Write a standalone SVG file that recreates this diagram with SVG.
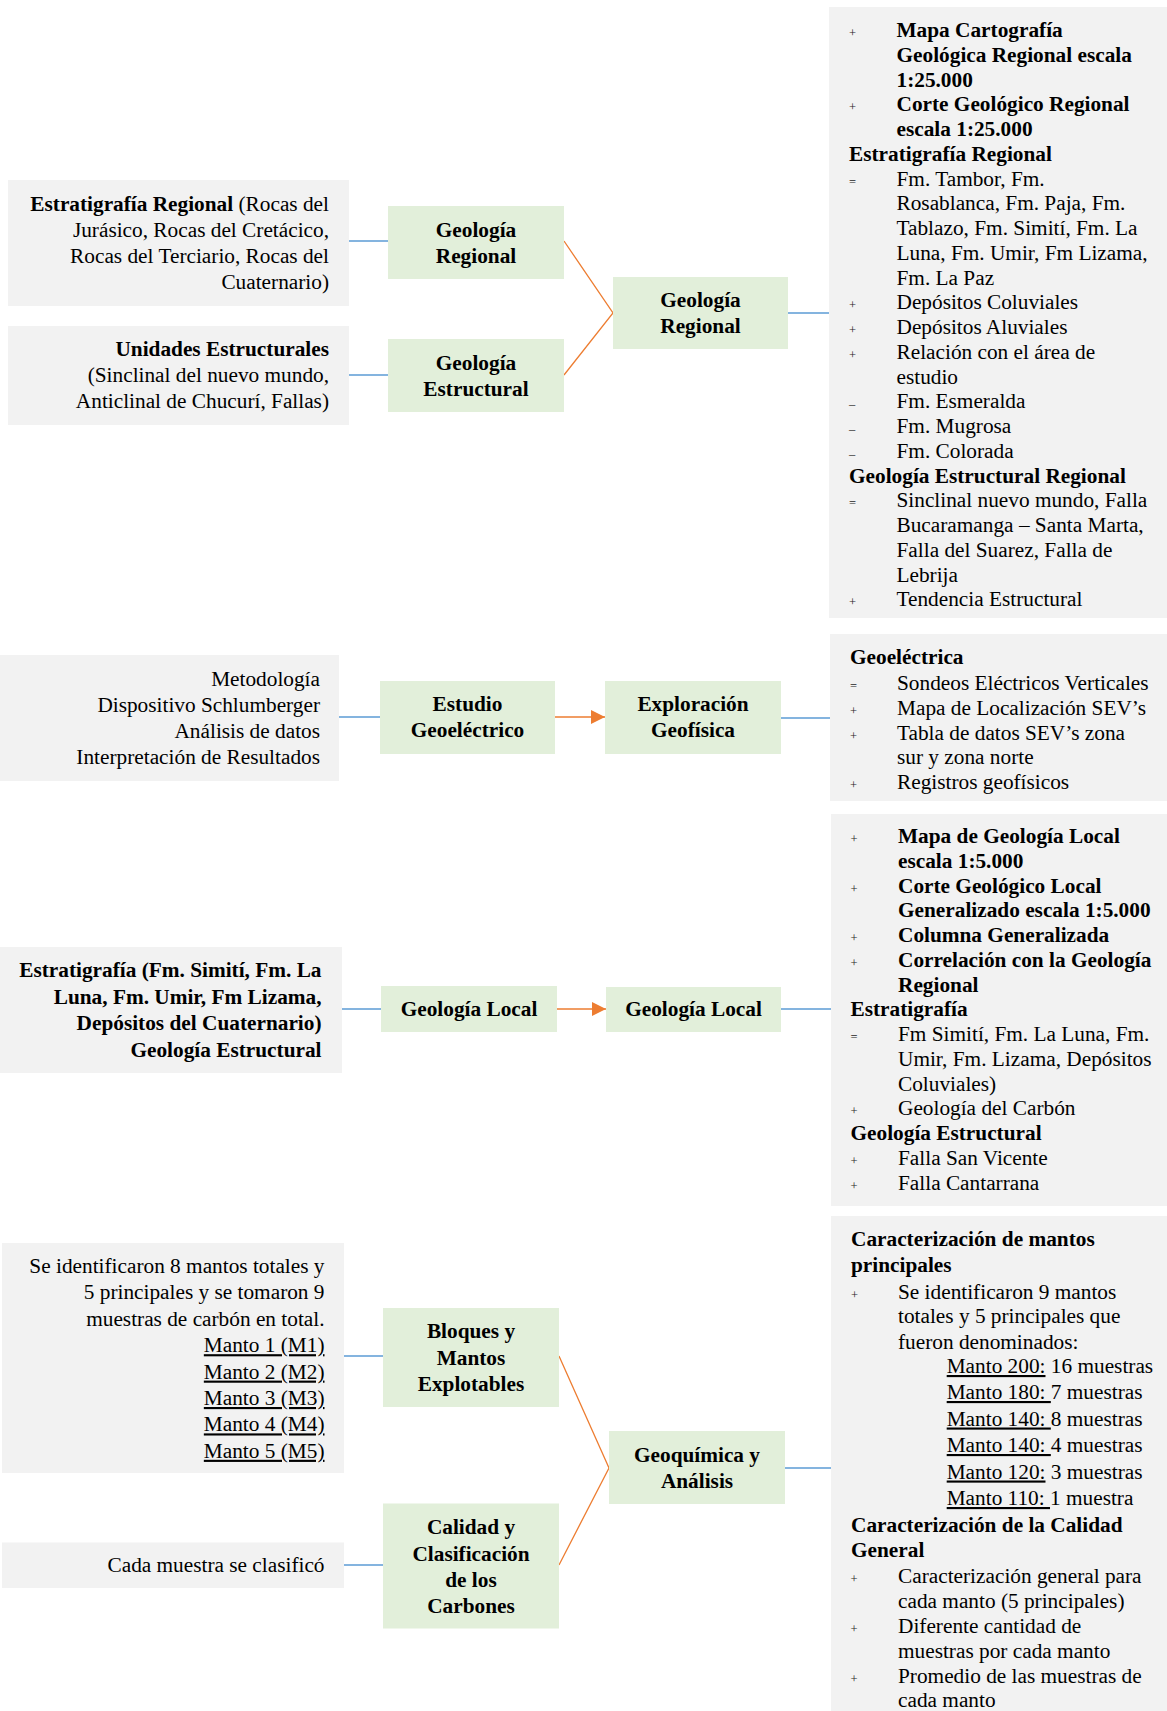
<svg xmlns="http://www.w3.org/2000/svg" width="1167" height="1711" viewBox="0 0 1167 1711">
<style>
text{font-family:"Liberation Serif","Times New Roman",serif;font-size:21.3px;fill:#000}
.b{font-weight:bold}
.r{text-anchor:end}
.m{text-anchor:middle;font-weight:bold}
.u{text-decoration:underline}
.bl{font-size:12.5px;fill:#262626}
.gray{fill:#f2f2f2}
.green{fill:#e2efda}
.blue{stroke:#5b9bd5;stroke-width:1.5;fill:none}
.orange{stroke:#ed7d31;stroke-width:1.3;fill:none}
</style>
<defs>
<marker id="arr" viewBox="0 0 10 10" refX="10" refY="5" markerWidth="15" markerHeight="14" markerUnits="userSpaceOnUse" orient="auto">
<path d="M0,0 L10,5 L0,10 z" fill="#ed7d31"/>
</marker>
</defs>
<rect width="1167" height="1711" fill="#ffffff"/>

<g id="connectors">
<line class="blue" x1="349" y1="241" x2="388" y2="241"/>
<line class="blue" x1="349" y1="375" x2="388" y2="375"/>
<polyline class="orange" points="564,241 613,313 564,375"/>
<line class="blue" x1="788" y1="313" x2="830" y2="313"/>
<line class="blue" x1="339" y1="717" x2="380" y2="717"/>
<line class="orange" x1="555" y1="717" x2="605" y2="717" stroke-width="2" marker-end="url(#arr)"/>
<line class="blue" x1="781" y1="718" x2="830" y2="718"/>
<line class="blue" x1="342" y1="1009" x2="381" y2="1009"/>
<line class="orange" x1="557" y1="1009" x2="606" y2="1009" stroke-width="2" marker-end="url(#arr)"/>
<line class="blue" x1="781" y1="1009" x2="831" y2="1009"/>
<line class="blue" x1="344" y1="1356" x2="383" y2="1356"/>
<line class="blue" x1="344" y1="1565" x2="383" y2="1565"/>
<polyline class="orange" points="559,1356 609,1468 559,1565"/>
<line class="blue" x1="785" y1="1468" x2="831" y2="1468"/>
</g>

<g id="src-estratigrafia-regional">
<rect class="gray" x="8" y="180" width="341" height="126"/>
<text class="r" x="329" y="211"><tspan class="b">Estratigrafía Regional</tspan> (Rocas del</text>
<text class="r" x="329" y="237">Jurásico, Rocas del Cretácico,</text>
<text class="r" x="329" y="263">Rocas del Terciario, Rocas del</text>
<text class="r" x="329" y="289">Cuaternario)</text>
</g>

<g id="src-unidades-estructurales">
<rect class="gray" x="8" y="326" width="341" height="99"/>
<text class="r b" x="329" y="356">Unidades Estructurales</text>
<text class="r" x="329" y="382">(Sinclinal del nuevo mundo,</text>
<text class="r" x="329" y="408">Anticlinal de Chucurí, Fallas)</text>
</g>

<g id="geologia-regional-1">
<rect class="green" x="388" y="206" width="176" height="73"/>
<text class="m" x="476" y="237">Geología</text>
<text class="m" x="476" y="263">Regional</text>
</g>

<g id="geologia-estructural">
<rect class="green" x="388" y="339" width="176" height="73"/>
<text class="m" x="476" y="370">Geología</text>
<text class="m" x="476" y="396">Estructural</text>
</g>

<g id="geologia-regional-2">
<rect class="green" x="613" y="277" width="175" height="72"/>
<text class="m" x="700.5" y="307">Geología</text>
<text class="m" x="700.5" y="333">Regional</text>
</g>

<g id="panel-geologia-regional">
<rect class="gray" x="829" y="7" width="338" height="611"/>
<text class="bl" x="849" y="37">+</text>
<text class="b" x="896.5" y="37">Mapa Cartografía</text>
<text class="b" x="896.5" y="61.75">Geológica Regional escala</text>
<text class="b" x="896.5" y="86.5">1:25.000</text>
<text class="bl" x="849" y="111.25">+</text>
<text class="b" x="896.5" y="111.25">Corte Geológico Regional</text>
<text class="b" x="896.5" y="136">escala 1:25.000</text>
<text class="b" x="849" y="160.75">Estratigrafía Regional</text>
<text class="bl" x="849" y="185.5">=</text>
<text x="896.5" y="185.5">Fm. Tambor, Fm.</text>
<text x="896.5" y="210.25">Rosablanca, Fm. Paja, Fm.</text>
<text x="896.5" y="235">Tablazo, Fm. Simití, Fm. La</text>
<text x="896.5" y="259.75">Luna, Fm. Umir, Fm Lizama,</text>
<text x="896.5" y="284.5">Fm. La Paz</text>
<text class="bl" x="849" y="309.25">+</text>
<text x="896.5" y="309.25">Depósitos Coluviales</text>
<text class="bl" x="849" y="334">+</text>
<text x="896.5" y="334">Depósitos Aluviales</text>
<text class="bl" x="849" y="358.75">+</text>
<text x="896.5" y="358.75">Relación con el área de</text>
<text x="896.5" y="383.5">estudio</text>
<text class="bl" x="849" y="408.25">–</text>
<text x="896.5" y="408.25">Fm. Esmeralda</text>
<text class="bl" x="849" y="433">–</text>
<text x="896.5" y="433">Fm. Mugrosa</text>
<text class="bl" x="849" y="457.75">–</text>
<text x="896.5" y="457.75">Fm. Colorada</text>
<text class="b" x="849" y="482.5">Geología Estructural Regional</text>
<text class="bl" x="849" y="507.25">=</text>
<text x="896.5" y="507.25">Sinclinal nuevo mundo, Falla</text>
<text x="896.5" y="532">Bucaramanga – Santa Marta,</text>
<text x="896.5" y="556.75">Falla del Suarez, Falla de</text>
<text x="896.5" y="581.5">Lebrija</text>
<text class="bl" x="849" y="606.25">+</text>
<text x="896.5" y="606.25">Tendencia Estructural</text>
</g>

<g id="src-metodologia">
<rect class="gray" x="0" y="655" width="339" height="126"/>
<text class="r" x="320" y="686">Metodología</text>
<text class="r" x="320" y="712">Dispositivo Schlumberger</text>
<text class="r" x="320" y="738">Análisis de datos</text>
<text class="r" x="320" y="764">Interpretación de Resultados</text>
</g>

<g id="estudio-geoelectrico">
<rect class="green" x="380" y="681" width="175" height="73"/>
<text class="m" x="467.5" y="711">Estudio</text>
<text class="m" x="467.5" y="737">Geoeléctrico</text>
</g>

<g id="exploracion-geofisica">
<rect class="green" x="605" y="681" width="176" height="73"/>
<text class="m" x="693" y="711">Exploración</text>
<text class="m" x="693" y="737">Geofísica</text>
</g>

<g id="panel-geoelectrica">
<rect class="gray" x="830" y="634" width="337" height="167"/>
<text class="b" x="850" y="664">Geoeléctrica</text>
<text class="bl" x="850" y="689.5">=</text>
<text x="897" y="689.5">Sondeos Eléctricos Verticales</text>
<text class="bl" x="850" y="714.5">+</text>
<text x="897" y="714.5">Mapa de Localización SEV’s</text>
<text class="bl" x="850" y="739.5">+</text>
<text x="897" y="739.5">Tabla de datos SEV’s zona</text>
<text x="897" y="764">sur y zona norte</text>
<text class="bl" x="850" y="788.5">+</text>
<text x="897" y="788.5">Registros geofísicos</text>
</g>

<g id="src-estratigrafia-local">
<rect class="gray" x="0" y="947" width="342" height="126"/>
<text class="r b" x="321.5" y="977">Estratigrafía (Fm. Simití, Fm. La</text>
<text class="r b" x="321.5" y="1003.5">Luna, Fm. Umir, Fm Lizama,</text>
<text class="r b" x="321.5" y="1030">Depósitos del Cuaternario)</text>
<text class="r b" x="321.5" y="1056.5">Geología Estructural</text>
</g>

<g id="geologia-local-1">
<rect class="green" x="381" y="986" width="176" height="46"/>
<text class="m" x="469" y="1016">Geología Local</text>
</g>

<g id="geologia-local-2">
<rect class="green" x="606" y="987" width="175" height="45"/>
<text class="m" x="693.5" y="1016">Geología Local</text>
</g>

<g id="panel-geologia-local">
<rect class="gray" x="831" y="814" width="336" height="392"/>
<text class="bl" x="850.5" y="843">+</text>
<text class="b" x="898" y="843">Mapa de Geología Local</text>
<text class="b" x="898" y="867.75">escala 1:5.000</text>
<text class="bl" x="850.5" y="892.5">+</text>
<text class="b" x="898" y="892.5">Corte Geológico Local</text>
<text class="b" x="898" y="917.25">Generalizado escala 1:5.000</text>
<text class="bl" x="850.5" y="942">+</text>
<text class="b" x="898" y="942">Columna Generalizada</text>
<text class="bl" x="850.5" y="966.75">+</text>
<text class="b" x="898" y="966.75">Correlación con la Geología</text>
<text class="b" x="898" y="991.5">Regional</text>
<text class="b" x="850.5" y="1016.25">Estratigrafía</text>
<text class="bl" x="850.5" y="1041">=</text>
<text x="898" y="1041">Fm Simití, Fm. La Luna, Fm.</text>
<text x="898" y="1065.75">Umir, Fm. Lizama, Depósitos</text>
<text x="898" y="1090.5">Coluviales)</text>
<text class="bl" x="850.5" y="1115.25">+</text>
<text x="898" y="1115.25">Geología del Carbón</text>
<text class="b" x="850.5" y="1140">Geología Estructural</text>
<text class="bl" x="850.5" y="1164.75">+</text>
<text x="898" y="1164.75">Falla San Vicente</text>
<text class="bl" x="850.5" y="1189.5">+</text>
<text x="898" y="1189.5">Falla Cantarrana</text>
</g>

<g id="src-mantos">
<rect class="gray" x="2" y="1243" width="342" height="230"/>
<text class="r" x="324.5" y="1273">Se identificaron 8 mantos totales y</text>
<text class="r" x="324.5" y="1299.4">5 principales y se tomaron 9</text>
<text class="r" x="324.5" y="1325.8">muestras de carbón en total.</text>
<text class="r u" x="324.5" y="1352.2">Manto 1 (M1)</text>
<text class="r u" x="324.5" y="1378.6">Manto 2 (M2)</text>
<text class="r u" x="324.5" y="1405">Manto 3 (M3)</text>
<text class="r u" x="324.5" y="1431.4">Manto 4 (M4)</text>
<text class="r u" x="324.5" y="1457.8">Manto 5 (M5)</text>
</g>

<g id="src-cada-muestra">
<rect class="gray" x="2" y="1542.5" width="342" height="45.5"/>
<text class="r" x="324.5" y="1572">Cada muestra se clasificó</text>
</g>

<g id="bloques-mantos">
<rect class="green" x="383" y="1308" width="176" height="99"/>
<text class="m" x="471" y="1338">Bloques y</text>
<text class="m" x="471" y="1364.5">Mantos</text>
<text class="m" x="471" y="1391">Explotables</text>
</g>

<g id="calidad-clasificacion">
<rect class="green" x="383" y="1503.5" width="176" height="125"/>
<text class="m" x="471" y="1534">Calidad y</text>
<text class="m" x="471" y="1560.5">Clasificación</text>
<text class="m" x="471" y="1587">de los</text>
<text class="m" x="471" y="1613">Carbones</text>
</g>

<g id="geoquimica-analisis">
<rect class="green" x="609" y="1431" width="176" height="73"/>
<text class="m" x="697" y="1462">Geoquímica y</text>
<text class="m" x="697" y="1488">Análisis</text>
</g>

<g id="panel-geoquimica">
<rect class="gray" x="831" y="1216" width="336" height="495"/>
<text class="b" x="851" y="1246">Caracterización de mantos</text>
<text class="b" x="851" y="1272">principales</text>
<text class="bl" x="851" y="1298.5">+</text>
<text x="898" y="1298.5">Se identificaron 9 mantos</text>
<text x="898" y="1323">totales y 5 principales que</text>
<text x="898" y="1348.5">fueron denominados:</text>
<text x="946.7" y="1373"><tspan class="u">Manto 200:</tspan> 16 muestras</text>
<text x="946.7" y="1399"><tspan class="u">Manto 180: </tspan>7 muestras</text>
<text x="946.7" y="1425.5"><tspan class="u">Manto 140: </tspan>8 muestras</text>
<text x="946.7" y="1452"><tspan class="u">Manto 140: </tspan>4 muestras</text>
<text x="946.7" y="1478.5"><tspan class="u">Manto 120:</tspan> 3 muestras</text>
<text x="946.7" y="1505"><tspan class="u">Manto 110: </tspan>1 muestra</text>
<text class="b" x="851" y="1531.5">Caracterización de la Calidad</text>
<text class="b" x="851" y="1557">General</text>
<text class="bl" x="850.5" y="1583">+</text>
<text x="898" y="1583">Caracterización general para</text>
<text x="898" y="1608">cada manto (5 principales)</text>
<text class="bl" x="850.5" y="1633">+</text>
<text x="898" y="1633">Diferente cantidad de</text>
<text x="898" y="1657.5">muestras por cada manto</text>
<text class="bl" x="850.5" y="1682.5">+</text>
<text x="898" y="1682.5">Promedio de las muestras de</text>
<text x="898" y="1707">cada manto</text>
</g>
</svg>
